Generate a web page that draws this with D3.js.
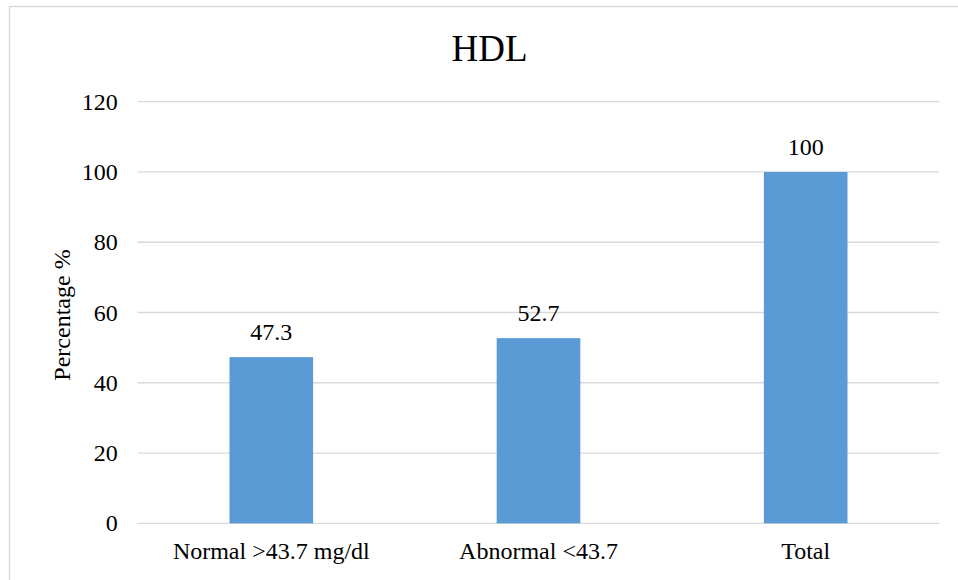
<!DOCTYPE html>
<html>
<head>
<meta charset="utf-8">
<script src="https://cdn.jsdelivr.net/npm/d3@7"></script>
<style>
  body { margin: 0; background: #fff; }
  svg { display: block; font-family: "Liberation Serif", "Times New Roman", serif; }
</style>
</head>
<body>
<svg id="chart"></svg>
<script>
// Chart data
const categories = ["Normal >43.7 mg/dl", "Abnormal <43.7", "Total"];
const percentages = [47.3, 52.7, 100];
const yTicks = [0, 20, 40, 60, 80, 100, 120];

const width = 958;
const height = 580;
const margin = { top: 101.7, right: 18.7, bottom: 56.7, left: 137.7 };
const fontSize = 24;

const svg = d3.select("#chart").attr("width", width).attr("height", height);

// Outer chart frame (cut off on the right and bottom)
svg.append("rect")
  .attr("x", 9.5)
  .attr("y", 6.5)
  .attr("width", 1000)
  .attr("height", 1000)
  .attr("fill", "none")
  .attr("stroke", "#d9d9d9")
  .attr("stroke-width", 1.5);

const x = d3.scaleBand()
  .domain(categories)
  .range([margin.left, width - margin.right])
  .paddingInner(0.687)
  .paddingOuter(0.687 / 2);

const y = d3.scaleLinear()
  .domain([0, 120])
  .range([height - margin.bottom, margin.top]);

// Gridlines
svg.append("g")
  .selectAll("line")
  .data(yTicks)
  .join("line")
  .attr("x1", margin.left)
  .attr("x2", width - margin.right)
  .attr("y1", d => y(d))
  .attr("y2", d => y(d))
  .attr("stroke", "#d9d9d9")
  .attr("stroke-width", 1.3);

// Y axis labels
const yAxis = d3.axisLeft(y).tickValues(yTicks).tickSize(0).tickPadding(20);
svg.append("g")
  .attr("transform", `translate(${margin.left},0)`)
  .call(yAxis)
  .call(g => g.select(".domain").remove())
  .call(g => g.selectAll("text")
    .attr("font-family", "Liberation Serif, serif")
    .attr("font-size", fontSize)
    .attr("fill", "#000"));

// X axis labels
const xAxis = d3.axisBottom(x).tickSize(0).tickPadding(19);
svg.append("g")
  .attr("transform", `translate(0,${height - margin.bottom})`)
  .call(xAxis)
  .call(g => g.select(".domain").remove())
  .call(g => g.selectAll("text")
    .attr("font-family", "Liberation Serif, serif")
    .attr("font-size", fontSize)
    .attr("fill", "#000"));

// Bars
svg.append("g")
  .selectAll("rect")
  .data(categories)
  .join("rect")
  .attr("x", d => x(d))
  .attr("y", (d, i) => y(percentages[i]))
  .attr("width", x.bandwidth())
  .attr("height", (d, i) => y(0) - y(percentages[i]))
  .attr("fill", "#5b9bd5");

// Value labels
svg.append("g")
  .selectAll("text")
  .data(categories)
  .join("text")
  .attr("x", d => x(d) + x.bandwidth() / 2)
  .attr("y", (d, i) => y(percentages[i]) - 17)
  .attr("text-anchor", "middle")
  .attr("font-size", fontSize)
  .attr("fill", "#000")
  .text((d, i) => percentages[i]);

// Title
svg.append("text")
  .attr("x", 489.5)
  .attr("y", 61)
  .attr("text-anchor", "middle")
  .attr("font-size", 37)
  .attr("fill", "#000")
  .text("HDL");

// Y axis title
svg.append("text")
  .attr("transform", "translate(70,315) rotate(-90)")
  .attr("text-anchor", "middle")
  .attr("font-size", fontSize)
  .attr("fill", "#000")
  .text("Percentage %");
</script>
</body>
</html>
